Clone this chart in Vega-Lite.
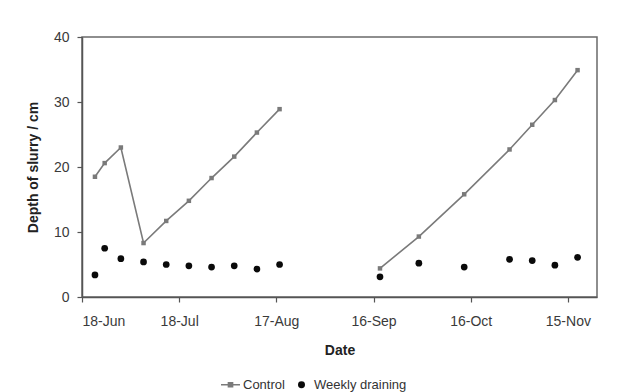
{
  "$schema": "https://vega.github.io/schema/vega-lite/v6.json",
  "width": 515,
  "height": 260,
  "autosize": "none",
  "padding": {"left": 82, "top": 37, "right": 28, "bottom": 95},
  "background": "white",
  "config": {
    "font": "Liberation Sans",
    "view": {"stroke": "#6a6a6a", "strokeWidth": 1.5},
    "axis": {
      "domainColor": "#555",
      "domainWidth": 1.5,
      "tickColor": "#555",
      "tickWidth": 1.2,
      "tickSize": 5,
      "grid": false,
      "labelFont": "Liberation Sans",
      "labelFontSize": 14,
      "labelColor": "#3a3a3a",
      "titleFont": "Liberation Sans",
      "titleFontSize": 14,
      "titleFontWeight": "bold",
      "titleColor": "#222"
    }
  },
  "data": {
    "values": [
      {"date": "2007-06-22", "series": "Control", "seg": 1, "depth": 18.5},
      {"date": "2007-06-25", "series": "Control", "seg": 1, "depth": 20.6},
      {"date": "2007-06-30", "series": "Control", "seg": 1, "depth": 23.0},
      {"date": "2007-07-07", "series": "Control", "seg": 1, "depth": 8.3},
      {"date": "2007-07-14", "series": "Control", "seg": 1, "depth": 11.7},
      {"date": "2007-07-21", "series": "Control", "seg": 1, "depth": 14.8},
      {"date": "2007-07-28", "series": "Control", "seg": 1, "depth": 18.3},
      {"date": "2007-08-04", "series": "Control", "seg": 1, "depth": 21.6},
      {"date": "2007-08-11", "series": "Control", "seg": 1, "depth": 25.3},
      {"date": "2007-08-18", "series": "Control", "seg": 1, "depth": 28.9},
      {"date": "2007-09-18", "series": "Control", "seg": 2, "depth": 4.4},
      {"date": "2007-09-30", "series": "Control", "seg": 2, "depth": 9.3},
      {"date": "2007-10-14", "series": "Control", "seg": 2, "depth": 15.8},
      {"date": "2007-10-28", "series": "Control", "seg": 2, "depth": 22.7},
      {"date": "2007-11-04", "series": "Control", "seg": 2, "depth": 26.5},
      {"date": "2007-11-11", "series": "Control", "seg": 2, "depth": 30.3},
      {"date": "2007-11-18", "series": "Control", "seg": 2, "depth": 34.9},
      {"date": "2007-06-22", "series": "Weekly draining", "seg": 1, "depth": 3.4},
      {"date": "2007-06-25", "series": "Weekly draining", "seg": 1, "depth": 7.5},
      {"date": "2007-06-30", "series": "Weekly draining", "seg": 1, "depth": 5.9},
      {"date": "2007-07-07", "series": "Weekly draining", "seg": 1, "depth": 5.4},
      {"date": "2007-07-14", "series": "Weekly draining", "seg": 1, "depth": 5.0},
      {"date": "2007-07-21", "series": "Weekly draining", "seg": 1, "depth": 4.8},
      {"date": "2007-07-28", "series": "Weekly draining", "seg": 1, "depth": 4.6},
      {"date": "2007-08-04", "series": "Weekly draining", "seg": 1, "depth": 4.8},
      {"date": "2007-08-11", "series": "Weekly draining", "seg": 1, "depth": 4.3},
      {"date": "2007-08-18", "series": "Weekly draining", "seg": 1, "depth": 5.0},
      {"date": "2007-09-18", "series": "Weekly draining", "seg": 2, "depth": 3.1},
      {"date": "2007-09-30", "series": "Weekly draining", "seg": 2, "depth": 5.2},
      {"date": "2007-10-14", "series": "Weekly draining", "seg": 2, "depth": 4.6},
      {"date": "2007-10-28", "series": "Weekly draining", "seg": 2, "depth": 5.8},
      {"date": "2007-11-04", "series": "Weekly draining", "seg": 2, "depth": 5.6},
      {"date": "2007-11-11", "series": "Weekly draining", "seg": 2, "depth": 4.9},
      {"date": "2007-11-18", "series": "Weekly draining", "seg": 2, "depth": 6.1}
    ]
  },
  "encoding": {
    "x": {
      "field": "date",
      "type": "temporal",
      "title": "Date",
      "scale": {
        "type": "utc",
        "domain": [
          {"year": 2007, "month": "Jun", "date": 18, "utc": true},
          {"year": 2007, "month": "Nov", "date": 24, "utc": true}
        ]
      },
      "axis": {
        "values": [
          {"year": 2007, "month": "Jun", "date": 18, "utc": true},
          {"year": 2007, "month": "Jul", "date": 18, "utc": true},
          {"year": 2007, "month": "Aug", "date": 17, "utc": true},
          {"year": 2007, "month": "Sep", "date": 16, "utc": true},
          {"year": 2007, "month": "Oct", "date": 16, "utc": true},
          {"year": 2007, "month": "Nov", "date": 15, "utc": true}
        ],
        "format": "%d-%b",
        "labelPadding": 12,
        "titlePadding": 15
      }
    },
    "y": {
      "field": "depth",
      "type": "quantitative",
      "title": "Depth of slurry / cm",
      "scale": {"domain": [0, 40], "nice": false},
      "axis": {"values": [0, 10, 20, 30, 40], "labelPadding": 8, "titlePadding": 13}
    },
    "color": {
      "field": "series",
      "type": "nominal",
      "scale": {"domain": ["Control", "Weekly draining"], "range": ["#7a7a7a", "#0a0a0a"]},
      "legend": {
        "orient": "none",
        "legendX": 142,
        "legendY": 341,
        "direction": "horizontal",
        "title": null,
        "labelFont": "Liberation Sans",
        "labelFontSize": 13,
        "labelColor": "#333",
        "symbolSize": 360,
        "columnPadding": 10,
        "labelOffset": 6,
        "encode": {
          "symbols": {
            "update": {
              "shape": {"signal": "datum.value === 'Control' ? 'M-1,0L1,0M-0.22,-0.22L0.22,-0.22L0.22,0.22L-0.22,0.22Z' : 'circle'"},
              "size": {"signal": "datum.value === 'Control' ? 360 : 30"},
              "fill": {"signal": "datum.value === 'Control' ? '#777777' : '#0a0a0a'"},
              "stroke": {"signal": "datum.value === 'Control' ? '#8a8a8a' : '#0a0a0a'"},
              "strokeWidth": {"value": 1.5},
              "opacity": {"value": 1}
            }
          }
        }
      }
    }
  },
  "layer": [
    {
      "transform": [{"filter": "datum.series === 'Control'"}],
      "mark": {"type": "line", "color": "#8a8a8a", "strokeWidth": 1.6},
      "encoding": {"detail": {"field": "seg", "type": "nominal"}}
    },
    {
      "transform": [{"filter": "datum.series === 'Control'"}],
      "mark": {"type": "point", "filled": true, "opacity": 1, "shape": "square", "size": 20}
    },
    {
      "transform": [{"filter": "datum.series === 'Weekly draining'"}],
      "mark": {"type": "point", "filled": true, "opacity": 1, "shape": "circle", "size": 45}
    }
  ]
}
